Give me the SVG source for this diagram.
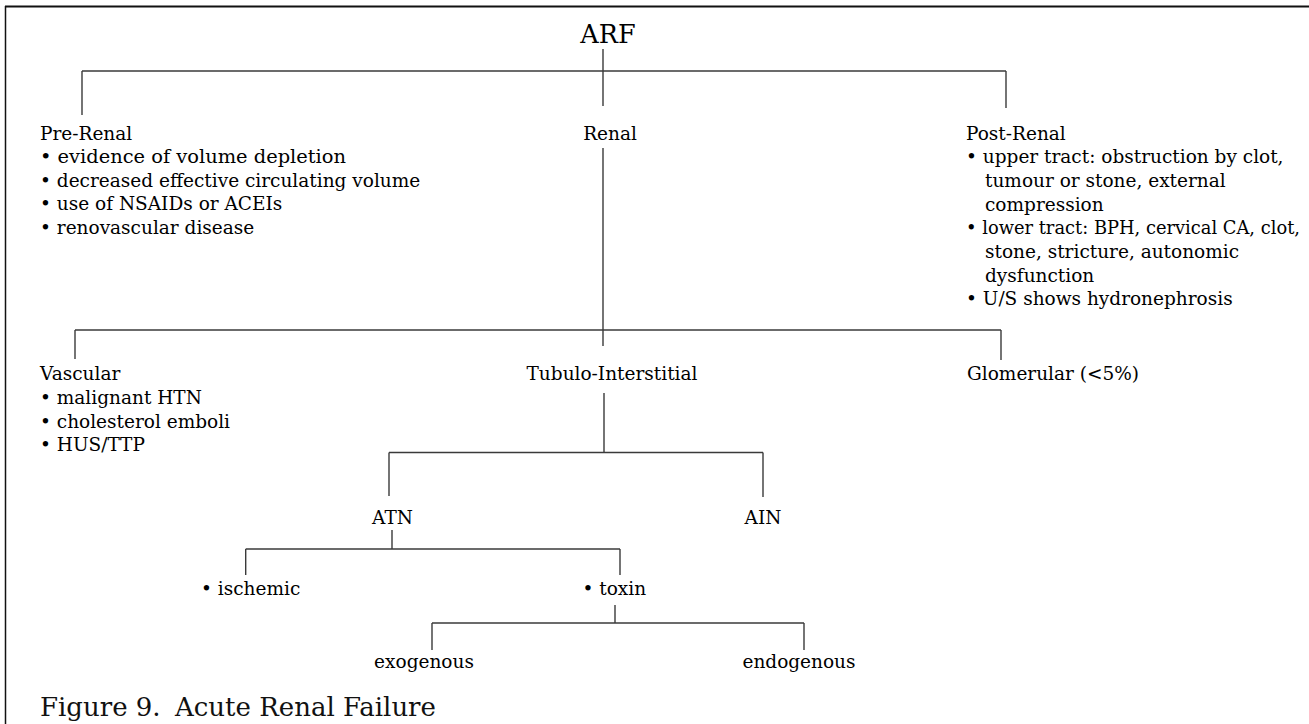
<svg xmlns="http://www.w3.org/2000/svg" width="1309" height="724" viewBox="0 0 1309 724">
<style>
  .t { font-family: "DejaVu Serif", "Liberation Serif", serif; font-size: 18.5px; fill: #000; }
  .big { font-family: "DejaVu Serif", "Liberation Serif", serif; font-size: 25.5px; fill: #000; }
  .cap { font-family: "DejaVu Serif", "Liberation Serif", serif; font-size: 26px; fill: #111; }
  .mid { text-anchor: middle; }
  .ln { fill: none; stroke: #3a3a3a; stroke-width: 1.4; }
  .frame { fill: none; stroke: #111; }
</style>
<rect x="0" y="0" width="1309" height="724" fill="#fff"/>
<g id="frame">
  <path class="frame" d="M5,6.5 H1309" stroke-width="2"/>
  <path class="frame" d="M5.5,6 V724" stroke-width="1.5"/>
</g>
<g id="connectors">
  <path class="ln" d="M603,49 V106"/>
  <path class="ln" d="M82,71 H1006"/>
  <path class="ln" d="M82,71 V115"/>
  <path class="ln" d="M1006,71 V108"/>
  <path class="ln" d="M603,148 V346"/>
  <path class="ln" d="M75,330 H1001"/>
  <path class="ln" d="M75,330 V359"/>
  <path class="ln" d="M1001,330 V360"/>
  <path class="ln" d="M604,393 V452.5"/>
  <path class="ln" d="M389,452.5 H763"/>
  <path class="ln" d="M389,452.5 V496"/>
  <path class="ln" d="M763,452.5 V497"/>
  <path class="ln" d="M392,530 V549"/>
  <path class="ln" d="M245.7,549 H620"/>
  <path class="ln" d="M245.7,549 V575"/>
  <path class="ln" d="M620,549 V575"/>
  <path class="ln" d="M615,605 V623"/>
  <path class="ln" d="M432,623 H804"/>
  <path class="ln" d="M432,623 V650"/>
  <path class="ln" d="M804,623 V650"/>
</g>
<g id="arf"><text class="big mid" x="608" y="43">ARF</text></g>
<g id="pre-renal">
  <text class="t" x="40" y="139.5">Pre-Renal</text>
  <text class="t" x="40" y="163.1" textLength="306" lengthAdjust="spacingAndGlyphs">• evidence of volume depletion</text>
  <text class="t" x="40" y="186.7">• decreased effective circulating volume</text>
  <text class="t" x="40" y="210.3">• use of NSAIDs or ACEIs</text>
  <text class="t" x="40" y="233.9">• renovascular disease</text>
</g>
<g id="renal"><text class="t mid" x="610" y="140">Renal</text></g>
<g id="post-renal">
  <text class="t" x="966" y="139.5">Post-Renal</text>
  <text class="t" x="966" y="163.2">• upper tract: obstruction by clot,</text>
  <text class="t" x="985" y="186.9">tumour or stone, external</text>
  <text class="t" x="985" y="210.6">compression</text>
  <text class="t" x="966" y="234.3" style="font-size:17.8px" textLength="334" lengthAdjust="spacingAndGlyphs">• lower tract: BPH, cervical CA, clot,</text>
  <text class="t" x="985" y="258">stone, stricture, autonomic</text>
  <text class="t" x="985" y="281.7">dysfunction</text>
  <text class="t" x="966" y="305.4">• U/S shows hydronephrosis</text>
</g>
<g id="vascular">
  <text class="t" x="40" y="380">Vascular</text>
  <text class="t" x="40" y="403.8">• malignant HTN</text>
  <text class="t" x="40" y="427.6">• cholesterol emboli</text>
  <text class="t" x="40" y="451.4">• HUS/TTP</text>
</g>
<g id="tubulo-interstitial"><text class="t mid" x="612" y="379.5">Tubulo-Interstitial</text></g>
<g id="glomerular"><text class="t" x="967" y="380">Glomerular (&lt;5%)</text></g>
<g id="atn"><text class="t mid" x="392.5" y="524">ATN</text></g>
<g id="ain"><text class="t mid" x="763" y="524">AIN</text></g>
<g id="ischemic"><text class="t" x="201" y="595">• ischemic</text></g>
<g id="toxin"><text class="t" x="582.5" y="595">• toxin</text></g>
<g id="exogenous"><text class="t mid" x="424" y="667.5">exogenous</text></g>
<g id="endogenous"><text class="t mid" x="799" y="667.5">endogenous</text></g>
<g id="caption">
  <text class="cap" y="716"><tspan x="40">Figure 9.</tspan><tspan x="175">Acute Renal Failure</tspan></text>
</g>
</svg>
